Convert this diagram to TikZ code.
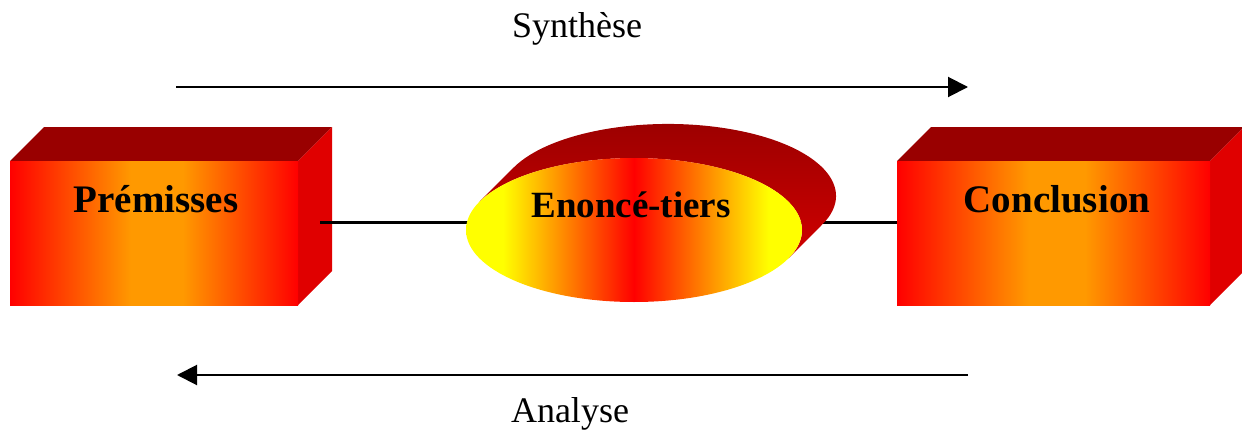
\documentclass[tikz,border=0pt]{standalone}
\usepackage{fontspec}
\setmainfont{Liberation Serif}
\usetikzlibrary{arrows.meta,shapes.geometric}
\definecolor{topred}{HTML}{990000}
\definecolor{sidered}{HTML}{E00000}
\definecolor{orangeC}{HTML}{FF9900}
\definecolor{orangeR}{HTML}{FF3300}
\definecolor{extdark}{HTML}{990000}
\definecolor{extlight}{HTML}{D00000}
\pgfdeclarehorizontalshading{boxshade}{100bp}{color(0bp)=(red); color(25bp)=(red); color(32bp)=(orangeR); color(46bp)=(orangeC); color(55bp)=(orangeC); color(75bp)=(red); color(100bp)=(red)}
\pgfdeclarehorizontalshading{ellshade}{100bp}{color(0bp)=(yellow); color(25bp)=(yellow); color(30.5bp)=(yellow); color(50bp)=(red); color(70bp)=(yellow); color(75bp)=(yellow); color(100bp)=(yellow)}
\begin{document}
\begin{tikzpicture}[x=1pt,y=1pt,
  topface/.style={fill=topred},
  sideface/.style={fill=sidered},
  frontface/.style={shading=boxshade},
  boxlabel/.style={font=\bfseries\fontsize{39}{39}\selectfont,anchor=base,inner sep=0pt},
  elllabel/.style={font=\bfseries\fontsize{37}{37}\selectfont,anchor=base,inner sep=0pt},
  arrowlabel/.style={font=\fontsize{36}{36}\selectfont,anchor=base,inner sep=0pt},
  conn/.style={line width=3pt},
  flow/.style={line width=2pt,-{Triangle[length=20pt,width=20pt]}}]
\useasboundingbox (0,0) rectangle (1242,432);

% left box
\fill[topface] (10,271) -- (44,305) -- (332,305) -- (298,271) -- cycle;
\fill[sideface] (298,271) -- (332,305) -- (332,161) -- (298,127) -- cycle;
\shade[frontface] (10,127) rectangle (298,271);

% right box
\fill[topface] (897,271) -- (931,305) -- (1244,305) -- (1210,271) -- cycle;
\fill[sideface] (1210,271) -- (1244,305) -- (1244,161) -- (1210,127) -- cycle;
\shade[frontface] (897,127) rectangle (1210,271);

% connector end points
\coordinate (premC) at (320,210);
\coordinate (encL) at (634,210);
\coordinate (encR) at (640,210);
\coordinate (concC) at (897,210);
\draw[conn] (premC) -- (encL);
\draw[conn] (encR) -- (concC);

% ellipse extrusion
\shade[top color=extdark,bottom color=extlight]
  (479.6,230.4) -- (513.6,264.4)
  arc[start angle=156.8,end angle=-23.2,x radius=168,y radius=72]
  -- (788.4,173.6)
  arc[start angle=-23.2,end angle=156.8,x radius=168,y radius=72] -- cycle;
% ellipse front
\node[ellipse,minimum width=336pt,minimum height=144pt,inner sep=0pt,
      shading=ellshade] (encF) at (634,202) {};

% labels
\node[boxlabel] (prem) at (156,220) {Prémisses};
\node[boxlabel] (conc) at (1057,220) {Conclusion};
\node[elllabel] (enc) at (631,215) {Enoncé-tiers};

% arrows
\coordinate (s1) at (176,345);
\coordinate (s2) at (968,345);
\coordinate (a1) at (968,57);
\coordinate (a2) at (177,57);
\draw[flow] (s1) -- (s2);
\draw[flow] (a1) -- (a2);
\node[arrowlabel] (syn) at (577,394) {Synthèse};
\node[arrowlabel] (ana) at (570,10) {Analyse};
\end{tikzpicture}
\end{document}
